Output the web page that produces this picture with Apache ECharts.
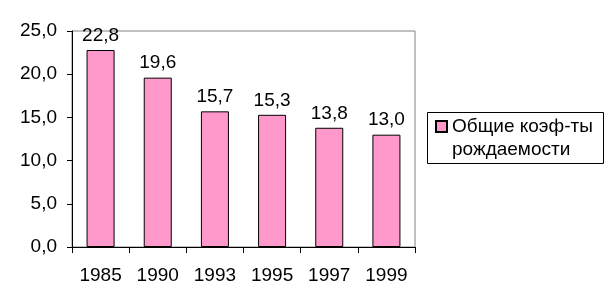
<!DOCTYPE html>
<html><head><meta charset="utf-8">
<script src="https://cdn.jsdelivr.net/npm/echarts@6/dist/echarts.min.js"></script>
<style>html,body{margin:0;padding:0;background:#fff}#c{width:613px;height:307px}</style>
</head><body><div id="c"></div>
<script>
var categories = ['1985','1990','1993','1995','1997','1999'];
var values = [22.8, 19.6, 15.7, 15.3, 13.8, 13.0];
var seriesName = 'Общие коэф-ты\nрождаемости';
var yTicks = {min: 0, max: 25, interval: 5};

function fmt(v){ return Number(v).toFixed(1).replace('.', ','); }
var FONT = '"Liberation Sans", Arial, sans-serif';
var chart = echarts.init(document.getElementById('c'), null, {renderer:'canvas'});
chart.setOption({
  animation: false,
  backgroundColor: '#fff',
  grid: {left: 72, top: 31, right: 198, bottom: 60, show: true, borderColor: '#808080', borderWidth: 1, backgroundColor: 'transparent'},
  xAxis: {
    type: 'category', data: categories, boundaryGap: true,
    axisLine: {lineStyle: {color: '#000', width: 1}},
    axisTick: {show: true, length: 6, inside: false, lineStyle: {color: '#000'}},
    axisLabel: {color: '#000', fontFamily: FONT, fontSize: 19, margin: 19}
  },
  yAxis: {
    type: 'value', min: yTicks.min, max: yTicks.max, interval: yTicks.interval,
    axisLine: {show: true, lineStyle: {color: '#000', width: 1}},
    axisTick: {show: true, length: 5, lineStyle: {color: '#000'}},
    splitLine: {show: false},
    axisLabel: {color: '#000', fontFamily: FONT, fontSize: 19, margin: 15, formatter: fmt}
  },
  legend: {
    show: true, orient: 'vertical', left: 435, top: 92, padding: 0,
    itemWidth: 11, itemHeight: 11, itemGap: 0,
    data: [{name: seriesName, icon: 'rect'}],
    formatter: function(n){ return ' \n' + n; },
    textStyle: {color: '#000', fontFamily: FONT, fontSize: 19, lineHeight: 23}
  },
  graphic: [{type: 'rect', shape: {x: 427.5, y: 112.5, width: 176, height: 51}, style: {fill: 'none', stroke: '#000', lineWidth: 1}, silent: true}],
  series: [{
    name: seriesName, type: 'bar', data: values, barWidth: '49%',
    itemStyle: {color: '#FF99CC', borderColor: '#000', borderWidth: 1},
    label: {show: true, position: 'top', distance: 5, color: '#000', fontFamily: FONT, fontSize: 19, formatter: function(p){return fmt(p.value);}}
  }]
});
</script></body></html>
